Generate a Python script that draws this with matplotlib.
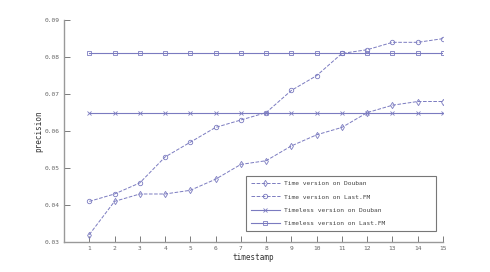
import numpy as np
import matplotlib
matplotlib.use('Agg')
import matplotlib.pyplot as plt

# datos
timestamp = np.arange(1, 16)
time_douban = [0.032, 0.041, 0.043, 0.043, 0.044, 0.047, 0.051, 0.052, 0.056, 0.059, 0.061, 0.065, 0.067, 0.068, 0.068]
time_lastfm = [0.041, 0.043, 0.046, 0.053, 0.057, 0.061, 0.063, 0.065, 0.071, 0.075, 0.081, 0.082, 0.084, 0.084, 0.085]
timeless_douban = [0.065] * 15
timeless_lastfm = [0.081] * 15

color = '#7b7bc0'
plt.rcParams['font.family'] = ['DejaVu Sans Mono']

fig = plt.figure(figsize=(4.9, 2.72), dpi=100)
ax = fig.add_axes([0.1306, 0.110, 0.7735, 0.816])

ax.plot(timestamp, time_douban, '--', color=color, lw=0.7, marker='d', ms=3.2, mfc='none', mew=0.6, label='Time version on Douban')
ax.plot(timestamp, time_lastfm, '--', color=color, lw=0.7, marker='o', ms=3.2, mfc='none', mew=0.6, label='Time version on Last.FM')
ax.plot(timestamp, timeless_douban, '-', color=color, lw=0.8, marker='x', ms=2.2, mew=0.6, label='Timeless version on Douban')
ax.plot(timestamp, timeless_lastfm, '-', color=color, lw=0.8, marker='s', ms=2.8, mfc='none', mew=0.6, label='Timeless version on Last.FM')

ax.set_xlim(0, 15)
ax.set_ylim(0.03, 0.09)
ax.set_xticks(timestamp)
ax.set_yticks([0.03, 0.04, 0.05, 0.06, 0.07, 0.08, 0.09])
ax.set_yticklabels(['0.03', '0.04', '0.05', '0.06', '0.07', '0.08', '0.09'])

for s in ['top', 'right']:
    ax.spines[s].set_visible(False)
for s in ['left', 'bottom']:
    ax.spines[s].set_color('#999999')
    ax.spines[s].set_linewidth(1.0)
ax.tick_params(direction='in', length=4, width=0.6, color='#666666', labelsize=4.5, labelcolor='#666666', pad=3)

ax.set_xlabel('timestamp', fontsize=5.5, color='#333333', labelpad=1)
ax.set_ylabel('precision', fontsize=5.5, color='#333333', labelpad=1)

leg = ax.legend(loc='lower left', bbox_to_anchor=(0.472, 0.036, 0.517, 0.243), mode='expand',
                fontsize=4.5, frameon=True, fancybox=False,
                handlelength=4.6, borderpad=0.8, labelspacing=1.25, handletextpad=0.6)
leg.get_frame().set_edgecolor('#555555')
leg.get_frame().set_linewidth(0.8)
for t in leg.get_texts():
    t.set_color('#444444')

fig.savefig('out.png', dpi=100)
